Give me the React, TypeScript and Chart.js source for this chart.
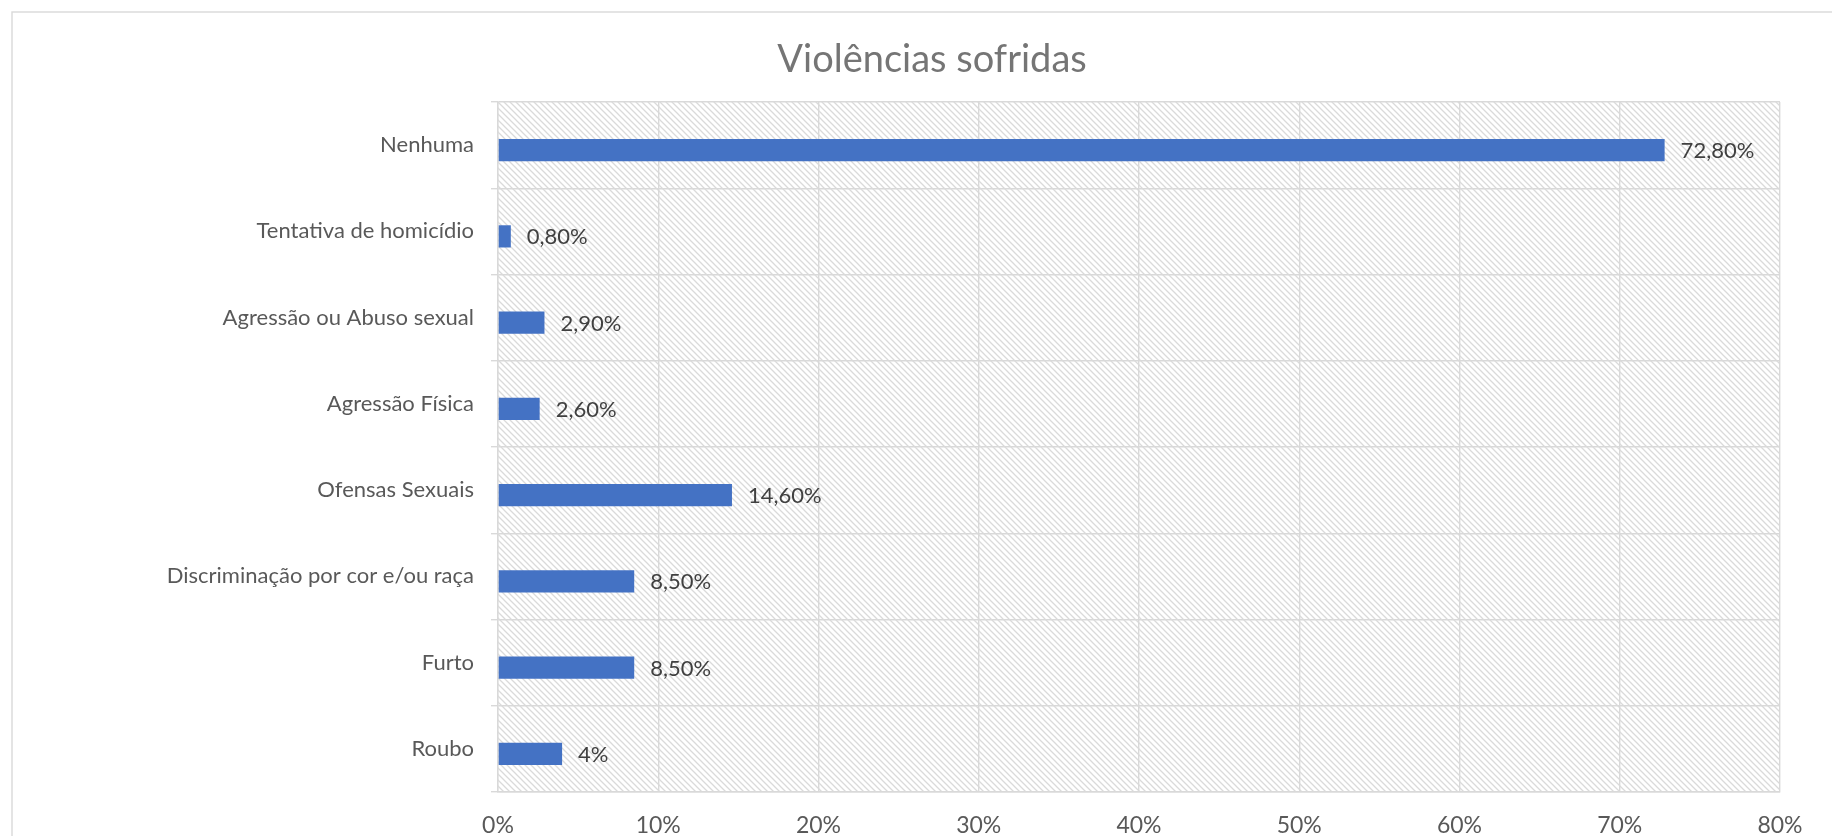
import React, { useEffect, useRef } from "react";
import { Chart, registerables } from "chart.js";

Chart.register(...registerables);

const chartTitle = "Violências sofridas";
const categories = [
  "Nenhuma",
  "Tentativa de homicídio",
  "Agressão ou Abuso sexual",
  "Agressão Física",
  "Ofensas Sexuais",
  "Discriminação por cor e/ou raça",
  "Furto",
  "Roubo",
];
const values = [72.8, 0.8, 2.9, 2.6, 14.6, 8.5, 8.5, 4];
const valueLabels = ["72,80%", "0,80%", "2,90%", "2,60%", "14,60%", "8,50%", "8,50%", "4%"];
const spacerValues = [0, 0, 0, 0, 0, 0, 0, 0];
const xMin = 0;
const xMax = 80;
const xStep = 10;

const FONT = "Lato";

function makePattern(ctx: CanvasRenderingContext2D) {
  const size = 6;
  const c = document.createElement("canvas");
  c.width = size;
  c.height = size;
  const p = c.getContext("2d")!;
  p.fillStyle = "#ffffff";
  p.fillRect(0, 0, size, size);
  p.strokeStyle = "#dadada";
  p.lineWidth = 1.3;
  p.beginPath();
  p.moveTo(-1, -1);
  p.lineTo(size + 1, size + 1);
  p.moveTo(-1, size - 1);
  p.lineTo(1, size + 1);
  p.moveTo(size - 1, -1);
  p.lineTo(size + 1, 1);
  p.stroke();
  return ctx.createPattern(c, "repeat");
}

const backgroundPlugin = {
  id: "bgPattern",
  beforeDraw(chart: any) {
    const { ctx, chartArea } = chart;
    ctx.save();
    ctx.fillStyle = "#ffffff";
    ctx.fillRect(0, 0, chart.width, chart.height);
    ctx.strokeStyle = "#d9d9d9";
    ctx.lineWidth = 1.4;
    ctx.strokeRect(12, 12, chart.width + 50, chart.height + 50);
    const pat = makePattern(ctx);
    if (pat) {
      ctx.fillStyle = pat;
      ctx.fillRect(chartArea.left, chartArea.top, chartArea.right - chartArea.left, chartArea.bottom - chartArea.top);
    }
    ctx.restore();
  },
};

const valueLabelPlugin = {
  id: "valueLabels",
  afterDatasetsDraw(chart: any) {
    const { ctx } = chart;
    const meta = chart.getDatasetMeta(1);
    ctx.save();
    ctx.font = `22px ${FONT}`;
    ctx.fillStyle = "#404040";
    ctx.textAlign = "left";
    ctx.textBaseline = "middle";
    meta.data.forEach((bar: any, i: number) => {
      ctx.fillText(valueLabels[i], bar.x + 16, bar.y + 1);
    });
    ctx.restore();
  },
};

export default function App() {
  const ref = useRef<HTMLCanvasElement | null>(null);

  useEffect(() => {
    if (!ref.current) return;
    const chart = new Chart(ref.current, {
      type: "bar",
      data: {
        labels: categories,
        datasets: [
          {
            label: "spacer",
            data: spacerValues,
            backgroundColor: "rgba(0,0,0,0)",
            borderWidth: 0,
          },
          {
            label: chartTitle,
            data: values,
            backgroundColor: "#4472C4",
            borderWidth: 0,
          },
        ],
      },
      options: {
        indexAxis: "y",
        responsive: false,
        animation: false,
        categoryPercentage: 0.232,
        barPercentage: 2.22,
        layout: { padding: { left: 84, right: 52, top: 0, bottom: 0 } },
        plugins: {
          legend: { display: false },
          tooltip: { enabled: false },
          title: {
            display: true,
            text: chartTitle,
            color: "#757575",
            font: { family: FONT, size: 38, weight: "normal" },
            padding: { top: 36.5, bottom: 19.9 },
          },
        },
        scales: {
          x: {
            type: "linear",
            min: xMin,
            max: xMax,
            ticks: {
              stepSize: xStep,
              color: "#595959",
              font: { family: FONT, size: 23 },
              padding: 20,
              callback: (v: any) => `${v}%`,
            },
            grid: { color: "#d9d9d9", lineWidth: 1.4, drawTicks: false },
            border: { display: true, color: "#d9d9d9", width: 1.4 },
            afterFit: (scale: any) => {
              scale.height = 44;
            },
          },
          y: {
            type: "category",
            ticks: {
              color: "#595959",
              font: { family: FONT, size: 22 },
              padding: 17,
            },
            grid: { color: "#d9d9d9", lineWidth: 1.4, tickLength: 7, offset: true, drawTicks: true },
            border: { display: true, color: "#d9d9d9", width: 1.4 },
            afterFit: (scale: any) => {
              scale.width = 414;
            },
          },
        },
      },
      plugins: [backgroundPlugin, valueLabelPlugin],
    });
    return () => chart.destroy();
  }, []);

  return (
    <div style={{ position: "fixed", left: 0, top: 0, width: 1832, height: 836, background: "#fff" }}>
      <canvas ref={ref} width={1832} height={836} style={{ display: "block" }} />
    </div>
  );
}
